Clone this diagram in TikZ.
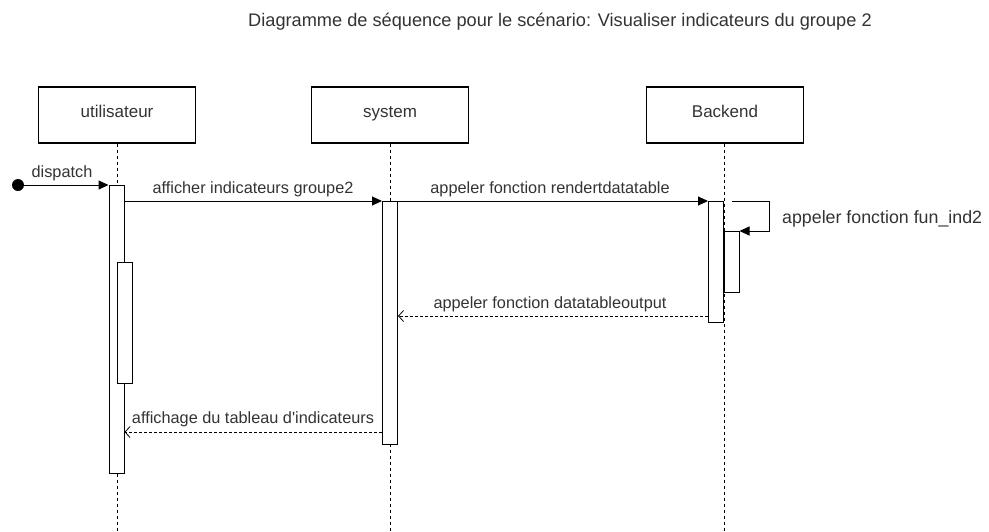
\documentclass[tikz,border=0pt]{standalone}
\usepackage{fontspec}
\setmainfont{Liberation Sans}
\usetikzlibrary{arrows.meta}
\begin{document}
\begin{tikzpicture}[x=1pt,y=-1pt,
  actor/.style={draw=black, line width=1.1pt, fill=white, minimum width=157pt, minimum height=56pt, inner sep=0pt, text=black!80},
  alabel/.style={font=\fontsize{17}{19}\selectfont, text=black!80, inner sep=0pt, anchor=base},
  lifeline/.style={draw=black, line width=0.7pt, dash pattern=on 3pt off 3pt},
  act/.style={draw=black, line width=1pt, fill=white, minimum width=15pt, inner sep=0pt, anchor=north},
  msg/.style={draw=black, line width=1pt, -{Triangle[length=10pt,width=9pt]}},
  ret/.style={draw=black, line width=0.8pt, dash pattern=on 3pt off 2pt, -{Straight Barb[length=5pt,width=11pt]}},
  lbl/.style={font=\fontsize{16.3}{18}\selectfont, text=black!80, inner sep=0pt, anchor=base}
]
\useasboundingbox (0,0) rectangle (989,531);
\node[font=\fontsize{18.2}{20}\selectfont, text=black!80, anchor=base, inner sep=0pt] (title) at (560,26) {Diagramme de séquence pour le scénario: Visualiser indicateurs du groupe 2};

\node[actor] (u) at (117,115) {};
\node[actor] (s) at (390,115) {};
\node[actor] (b) at (725,115) {};
\node[alabel] (ul) at (117,117) {utilisateur};
\node[alabel] (sl) at (390,117) {system};
\node[alabel] (bl) at (725,117) {Backend};

\coordinate (uend) at (117,531);
\coordinate (send) at (390,531);
\coordinate (bend) at (724,531);
\draw[lifeline] (u.south) -- (uend);
\draw[lifeline] (s.south) -- (send);
\draw[lifeline] (b.south -| bend) -- (bend);

\node[act, minimum height=288pt] (ua) at (116.5,185) {};
\node[act, minimum height=121pt] (ua2) at (124.5,262) {};
\node[act, minimum height=243pt] (sa) at (390,201) {};
\node[act, minimum height=121pt] (ba) at (716,201) {};
\node[act, minimum height=61pt] (ba2) at (731.5,231) {};

\coordinate (start) at (18,185);
\fill (start) circle (6pt);
\draw[msg] (start) -- (ua.north west);
\node[lbl] (l1) at (62,177) {dispatch};

\draw[msg] (ua.east |- sa.north) -- (sa.north west);
\node[lbl] (l2) at (253,193) {afficher indicateurs groupe2};

\draw[msg] (sa.north east) -- (ba.north west);
\node[lbl] (l3) at (550,193) {appeler fonction rendertdatatable};

\coordinate (sc1) at (732,201);
\coordinate (sc2) at (769,201);
\coordinate (sc3) at (769,231);
\draw[msg] (sc1) -- (sc2) -- (sc3) -- (ba2.north east);
\node[lbl, anchor=base west, font=\fontsize{17.8}{20}\selectfont] (l4) at (782,223) {appeler fonction fun\_ind2};

\draw[ret] (ba.west |- 0,316) -- (sa.east |- 0,316);
\node[lbl] (l5) at (550,308) {appeler fonction datatableoutput};

\draw[ret] (sa.west |- 0,432) -- (ua.east |- 0,432);
\node[lbl] (l6) at (253,423) {affichage du tableau d\textquotesingle indicateurs};
\end{tikzpicture}
\end{document}
